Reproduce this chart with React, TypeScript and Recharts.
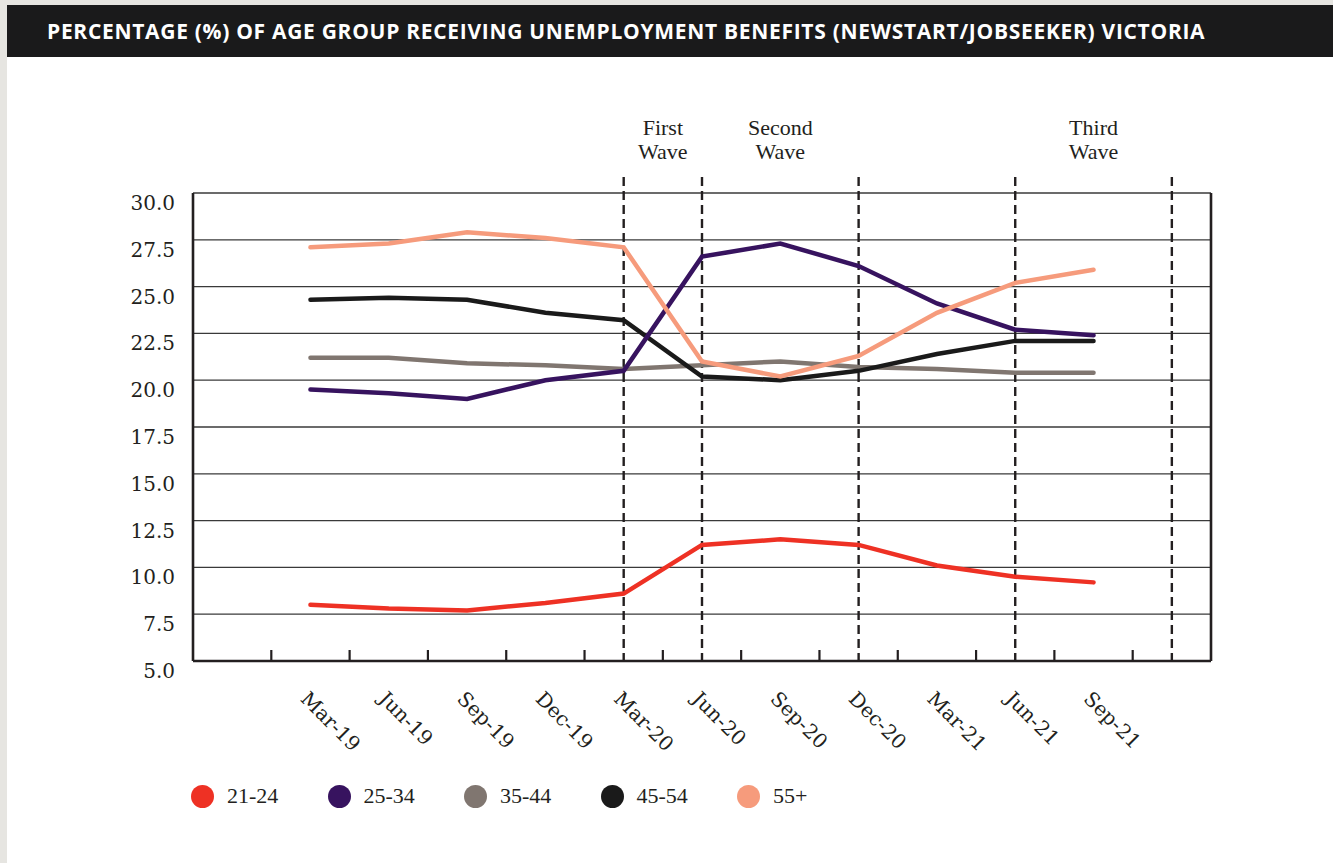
import React from "react";
import {
  LineChart,
  Line,
  XAxis,
  YAxis,
  CartesianGrid,
  ReferenceLine,
} from "recharts";

// quarter labels along the x axis
const quarters = [
  "Mar-19", "Jun-19", "Sep-19", "Dec-19", "Mar-20", "Jun-20",
  "Sep-20", "Dec-20", "Mar-21", "Jun-21", "Sep-21",
];

// % of each age group on Newstart / JobSeeker
const age2124 = [8.0, 7.8, 7.7, 8.1, 8.6, 11.2, 11.5, 11.2, 10.1, 9.5, 9.2];
const age2534 = [19.5, 19.3, 19.0, 20.0, 20.5, 26.6, 27.3, 26.1, 24.1, 22.7, 22.4];
const age3544 = [21.2, 21.2, 20.9, 20.8, 20.6, 20.8, 21.0, 20.7, 20.6, 20.4, 20.4];
const age4554 = [24.3, 24.4, 24.3, 23.6, 23.2, 20.2, 20.0, 20.5, 21.4, 22.1, 22.1];
const age55 = [27.1, 27.3, 27.9, 27.6, 27.1, 21.0, 20.2, 21.3, 23.6, 25.2, 25.9];

const yTicks = [5, 7.5, 10, 12.5, 15, 17.5, 20, 22.5, 25, 27.5, 30];

// dashed markers (index on the quarter axis; 11 = one step past Sep-21)
const waveMarkers = [4, 5, 7, 9, 11];
const waveLabels = [
  { at: 4.5, lines: ["First", "Wave"] },
  { at: 6, lines: ["Second", "Wave"] },
  { at: 10, lines: ["Third", "Wave"] },
];

const series = [
  { key: "a2124", name: "21-24", values: age2124, color: "#ee3124" },
  { key: "a3544", name: "35-44", values: age3544, color: "#807670" },
  { key: "a4554", name: "45-54", values: age4554, color: "#1a1a1a" },
  { key: "a2534", name: "25-34", values: age2534, color: "#37135f" },
  { key: "a55", name: "55+", values: age55, color: "#f69b7c" },
];
const legendOrder = ["a2124", "a2534", "a3544", "a4554", "a55"];

const data = quarters.map((q, i) => {
  const row: Record<string, number | string> = { idx: i, quarter: q };
  series.forEach((s) => (row[s.key] = s.values[i]));
  return row;
});

// label ticks on each quarter, tick marks between quarters
const xTicks = [
  ...quarters.map((_, i) => i),
  ...quarters.map((_, i) => i - 0.5),
  quarters.length - 0.5,
].sort((a, b) => a - b);

const SERIF = "'DejaVu Serif', serif";
const TIMES = "'Liberation Serif', 'Times New Roman', serif";
const INK = "#231f20";

function XTick(props: any) {
  const { x, y, payload } = props;
  const v = payload.value as number;
  if (!Number.isInteger(v)) {
    return <line x1={x} x2={x} y1={y} y2={y - 11} stroke={INK} strokeWidth={2.2} />;
  }
  return (
    <text
      x={x - 11}
      y={y + 39}
      transform={`rotate(45, ${x - 11}, ${y + 39})`}
      fontFamily={SERIF}
      fontSize={20}
      fill={INK}
      textAnchor="start"
    >
      {quarters[v]}
    </text>
  );
}

function YTick(props: any) {
  const { x, y, payload } = props;
  return (
    <text x={x} y={y + 17} textAnchor="end" fontFamily={SERIF} fontSize={20} fill={INK}>
      {(payload.value as number).toFixed(1)}
    </text>
  );
}

function DashedMarker(p: any) {
  const top = Math.min(p.y1, p.y2);
  const bottom = Math.max(p.y1, p.y2);
  return (
    <line
      x1={p.x1}
      x2={p.x2}
      y1={top - 16}
      y2={bottom}
      stroke={INK}
      strokeWidth={2.4}
      strokeDasharray="9 5"
    />
  );
}

function waveLabel(lines: string[]) {
  return (p: any) => {
    const vb = p.viewBox;
    return (
      <text x={vb.x} y={vb.y - 58} textAnchor="middle" fontFamily={TIMES} fontSize={22} fill={INK}>
        {lines.map((l, i) => (
          <tspan key={i} x={vb.x} dy={i === 0 ? 0 : 24}>
            {l}
          </tspan>
        ))}
      </text>
    );
  };
}

export default function App() {
  return (
    <div
      style={{
        position: "absolute",
        left: 0,
        top: 0,
        width: 1333,
        height: 863,
        background: "#e6e5e1",
        overflow: "hidden",
      }}
    >
      <div style={{ position: "absolute", left: 7, top: 5, width: 1326, height: 858, background: "#fff" }} />
      <div
        style={{
          position: "absolute",
          left: 7,
          top: 5,
          width: 1326,
          height: 52,
          background: "#1a1a1b",
          color: "#fff",
          fontFamily: "'Open Sans', sans-serif",
          fontWeight: 700,
          fontSize: 21,
          lineHeight: "52px",
          paddingLeft: 40,
          boxSizing: "border-box",
          letterSpacing: 0.7,
          whiteSpace: "nowrap",
        }}
      >
        PERCENTAGE (%) OF AGE GROUP RECEIVING UNEMPLOYMENT BENEFITS (NEWSTART/JOBSEEKER) VICTORIA
      </div>

      <div style={{ position: "absolute", left: 0, top: 57 }}>
        <LineChart
          width={1333}
          height={720}
          data={data}
          margin={{ top: 136, right: 122, left: 133, bottom: 16 }}
        >
          <CartesianGrid vertical={false} stroke="#3a3a3a" strokeWidth={1.3} />
          <XAxis
            dataKey="idx"
            type="number"
            domain={[-1.5, quarters.length + 0.5]}
            ticks={xTicks}
            interval={0}
            tick={<XTick />}
            tickLine={false}
            tickSize={0}
            tickMargin={0}
            height={100}
            axisLine={{ stroke: INK, strokeWidth: 2.6 }}
          />
          <YAxis
            domain={[5, 30]}
            ticks={yTicks}
            interval={0}
            width={60}
            tick={<YTick />}
            tickLine={false}
            tickSize={0}
            tickMargin={18}
            axisLine={{ stroke: INK, strokeWidth: 2.6 }}
          />
          <ReferenceLine x={quarters.length + 0.5} stroke={INK} strokeWidth={2.6} />
          {waveMarkers.map((m) => (
            <ReferenceLine key={m} x={m} shape={DashedMarker} />
          ))}
          {waveLabels.map((w) => (
            <ReferenceLine key={w.at} x={w.at} stroke="none" label={waveLabel(w.lines)} />
          ))}
          {series.map((s) => (
            <Line
              key={s.key}
              type="linear"
              dataKey={s.key}
              stroke={s.color}
              strokeWidth={4.5}
              strokeLinecap="round"
              dot={false}
              activeDot={false}
              isAnimationActive={false}
            />
          ))}
        </LineChart>
      </div>

      <div style={{ position: "absolute", left: 191, top: 784, display: "flex" }}>
        {legendOrder.map((k) => {
          const s = series.find((x) => x.key === k)!;
          return (
            <div key={k} style={{ width: 136.5, display: "flex", alignItems: "center" }}>
              <span
                style={{
                  width: 23,
                  height: 23,
                  borderRadius: "50%",
                  background: s.color,
                  display: "inline-block",
                  marginRight: 13,
                }}
              />
              <span style={{ fontFamily: TIMES, fontSize: 22, color: INK, lineHeight: "24px" }}>
                {s.name}
              </span>
            </div>
          );
        })}
      </div>
    </div>
  );
}
